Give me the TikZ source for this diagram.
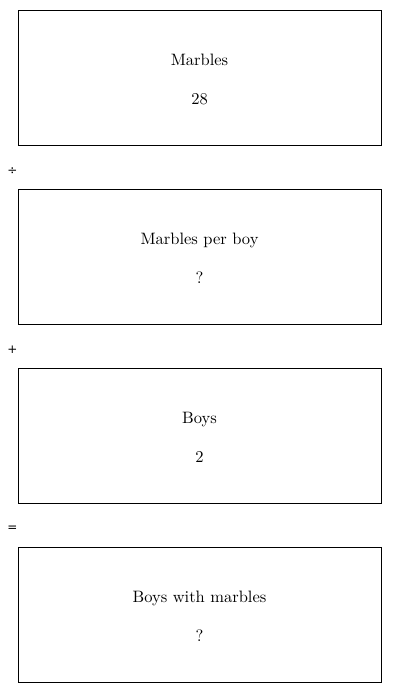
\documentclass[tikz,border=0pt]{standalone}
\usepackage{fontspec}
\newfontfamily\lmten{lmroman10-regular}[Extension=.otf]
\newfontfamily\opfont{DejaVu Sans}
\begin{document}
\begin{tikzpicture}[x=1pt,y=1pt,
  boxstyle/.style={draw=black,line width=0.9pt,minimum width=363pt,minimum height=135pt,inner sep=0pt},
  txt/.style={font=\lmten\fontsize{16.5}{19}\selectfont,inner sep=0pt,anchor=base},
  opsym/.style={font=\opfont\fontsize{12}{14}\selectfont,inner sep=0pt}]
\useasboundingbox (0,0) rectangle (400,-693);
\node[boxstyle] (b1) at (199.5,-77.5) {};
\node[boxstyle] (b2) at (199.5,-256.5) {};
\node[boxstyle] (b3) at (199.5,-435.5) {};
\node[boxstyle] (b4) at (199.5,-614.5) {};
\node[txt] (t1) at (199.5,-65.5) {Marbles};
\node[txt] (v1) at (199.5,-104.5) {28};
\node[txt] (t2) at (199.5,-244.5) {Marbles per boy};
\node[txt] (v2) at (199.5,-283.5) {?};
\node[txt] (t3) at (199.5,-423.5) {Boys};
\node[txt] (v3) at (199.5,-462.5) {2};
\node[txt] (t4) at (199.5,-602.5) {Boys with marbles};
\node[txt] (v4) at (199.5,-641.5) {?};
\node[opsym] (o1) at (12.5,-171) {÷};
\node[opsym] (o2) at (12.5,-350) {+};
\node[opsym] (o3) at (12.5,-529) {=};
\end{tikzpicture}
\end{document}
